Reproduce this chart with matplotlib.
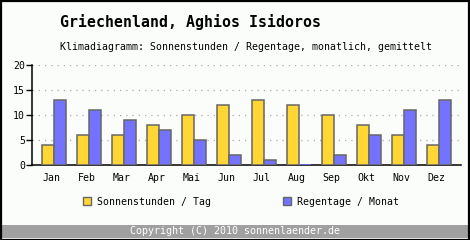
import numpy as np
import matplotlib
matplotlib.use("Agg")
import matplotlib.pyplot as plt
from matplotlib.patches import Rectangle

# Daten
monate = ['Jan', 'Feb', 'Mar', 'Apr', 'Mai', 'Jun', 'Jul', 'Aug', 'Sep', 'Okt', 'Nov', 'Dez']
sonnenstunden = [4, 6, 6, 8, 10, 12, 13, 12, 10, 8, 6, 4]
regentage = [13, 11, 9, 7, 5, 2, 1, 0, 2, 6, 11, 13]
y_ticks = [0, 5, 10, 15, 20]

titel = 'Griechenland, Aghios Isidoros'
untertitel = 'Klimadiagramm: Sonnenstunden / Regentage, monatlich, gemittelt'
copyright_txt = 'Copyright (C) 2010 sonnenlaender.de'

GELB = '#FFD633'
BLAU = '#7373FF'
RAND = '#666666'
HINTERGRUND = '#FBFDFB'

W, H = 470, 240
fig = plt.figure(figsize=(W / 100, H / 100), dpi=100, facecolor=HINTERGRUND)
plt.rcParams['font.family'] = ['DejaVu Sans Mono']

def px(x, y, w, h):
    # Pixel (oben links) -> Figur-Koordinaten
    return [x / W, 1 - (y + h) / H, w / W, h / H]

ax = fig.add_axes(px(32, 65, 429, 100))
ax.set_facecolor(HINTERGRUND)

x = np.arange(len(monate))
bw = 12 / 35
ax.bar(x - bw, sonnenstunden, width=bw, align='edge', color=GELB,
       edgecolor=RAND, linewidth=1.1, zorder=3)
rand_blau = [RAND if v > 0 else BLAU for v in regentage]
ax.bar(x, regentage, width=bw, align='edge', color=BLAU,
       edgecolor=rand_blau, linewidth=1.1, zorder=3)

ax.set_xlim(-0.637, 11.62)
ax.set_ylim(0, 20)
ax.set_yticks(y_ticks)
ax.set_xticks(x - 0.07)
ax.set_xticklabels(monate)
ax.tick_params(axis='x', length=0, pad=6, labelsize=7.1)
ax.tick_params(axis='y', length=4, width=1, direction='out', pad=1, labelsize=7.1)
for v in y_ticks[1:]:
    ax.axhline(v, color='#AAAAAA', linestyle=(0, (1, 4)), linewidth=0.9, zorder=1)

for s in ['top', 'right']:
    ax.spines[s].set_visible(False)
ax.spines['left'].set_linewidth(1.1)
ax.spines['bottom'].set_linewidth(1.1)

# Titel
fig.text(60 / W, 1 - 22 / H, titel, fontsize=10.7, fontweight='bold', va='center', ha='left')
fig.text(60 / W, 1 - 47 / H, untertitel, fontsize=7.15, va='center', ha='left')

# Legende
fig.patches.append(Rectangle((83 / W, 1 - 205 / H), 8 / W, 8 / H, transform=fig.transFigure,
                             facecolor=GELB, edgecolor=RAND, linewidth=1))
fig.text(97 / W, 1 - 202 / H, 'Sonnenstunden / Tag', fontsize=7.1, va='center', ha='left')
fig.patches.append(Rectangle((283 / W, 1 - 205 / H), 8 / W, 8 / H, transform=fig.transFigure,
                             facecolor=BLAU, edgecolor=RAND, linewidth=1))
fig.text(297 / W, 1 - 202 / H, 'Regentage / Monat', fontsize=7.1, va='center', ha='left')

# Fusszeile
fig.patches.append(Rectangle((0, 1 - 238 / H), 1, 13 / H, transform=fig.transFigure,
                             facecolor='#A0A0A0', edgecolor='none'))
fig.text(0.5, 1 - 231.5 / H, copyright_txt, fontsize=7.2, color='white', va='center', ha='center')

# Rahmen
fig.patches.append(Rectangle((0.5 / W, 0.5 / H), 1 - 1.5 / W, 1 - 1.5 / H, transform=fig.transFigure,
                             facecolor='none', edgecolor='black', linewidth=1.6))

fig.savefig('out.png', dpi=100, facecolor=HINTERGRUND)
